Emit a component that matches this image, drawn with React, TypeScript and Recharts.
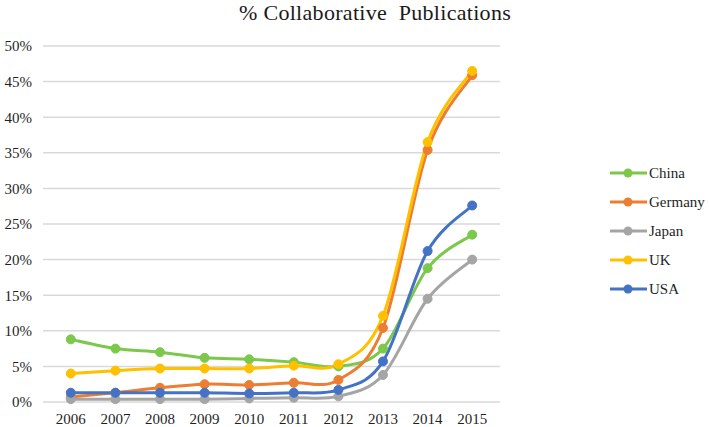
import React from "react";
import { LineChart, Line, XAxis, YAxis, CartesianGrid, Legend } from "recharts";

const years = ["2006", "2007", "2008", "2009", "2010", "2011", "2012", "2013", "2014", "2015"];
const china = [8.8, 7.5, 7.0, 6.2, 6.0, 5.6, 5.0, 7.5, 18.8, 23.5];
const germany = [0.7, 1.3, 2.0, 2.5, 2.4, 2.7, 3.1, 10.4, 35.4, 45.9];
const japan = [0.4, 0.4, 0.4, 0.4, 0.5, 0.6, 0.8, 3.8, 14.5, 20.0];
const uk = [4.0, 4.4, 4.7, 4.7, 4.7, 5.1, 5.3, 12.1, 36.5, 46.5];
const usa = [1.3, 1.3, 1.3, 1.3, 1.2, 1.3, 1.7, 5.7, 21.2, 27.6];
const yTicks = [0, 5, 10, 15, 20, 25, 30, 35, 40, 45, 50];

const series = [
  { key: "China", values: china, color: "#7cc84a" },
  { key: "Germany", values: germany, color: "#ed7d31" },
  { key: "Japan", values: japan, color: "#a5a5a5" },
  { key: "UK", values: uk, color: "#ffc000" },
  { key: "USA", values: usa, color: "#4472c4" },
];

const data = years.map((year, i) => {
  const row: Record<string, string | number> = { year };
  series.forEach((s) => {
    row[s.key] = s.values[i];
  });
  return row;
});

const FONT = "'Liberation Serif', 'Times New Roman', serif";

// Excel-style smoothing: Catmull-Rom like bezier, control points at 1/6 of neighbour span
const excelSmooth = (context: any) => {
  let pts: number[][] = [];
  return {
    areaStart() {},
    areaEnd() {},
    lineStart() {
      pts = [];
    },
    point(x: number, y: number) {
      pts.push([+x, +y]);
    },
    lineEnd() {
      if (!pts.length) return;
      context.moveTo(pts[0][0], pts[0][1]);
      for (let i = 0; i < pts.length - 1; i++) {
        const p0 = pts[i - 1] || pts[i];
        const p1 = pts[i];
        const p2 = pts[i + 1];
        const p3 = pts[i + 2] || p2;
        context.bezierCurveTo(
          p1[0] + (p2[0] - p0[0]) / 6,
          p1[1] + (p2[1] - p0[1]) / 6,
          p2[0] - (p3[0] - p1[0]) / 6,
          p2[1] - (p3[1] - p1[1]) / 6,
          p2[0],
          p2[1]
        );
      }
    },
  };
};

const renderLegend = () => (
  <svg width={100} height={150}>
    {series.map((s, i) => {
      const y = 10 + i * 29;
      return (
        <g key={s.key}>
          <line x1={1} x2={38} y1={y} y2={y} stroke={s.color} strokeWidth={3} />
          <circle cx={19} cy={y} r={4.5} fill={s.color} />
          <text x={40} y={y + 5} fontFamily={FONT} fontSize={15} fill="#1f1f1f">
            {s.key}
          </text>
        </g>
      );
    })}
  </svg>
);

export default function App() {
  return (
    <div style={{ position: "absolute", left: 0, top: 0, width: 709, height: 427, background: "#fff" }}>
      <div
        style={{
          position: "absolute",
          left: 239,
          top: 0,
          fontFamily: FONT,
          fontSize: 22,
          color: "#1a1a1a",
          whiteSpace: "pre",
          lineHeight: "26px",
          letterSpacing: 0.3,
        }}
      >
        {"% Collaborative  Publications"}
      </div>
      <LineChart width={709} height={427} data={data} margin={{ top: 46, right: 109, bottom: 0, left: 0 }}>
        <CartesianGrid vertical={false} stroke="#d9d9d9" strokeWidth={1.5} />
        <XAxis
          dataKey="year"
          axisLine={false}
          tickLine={false}
          height={25}
          tickMargin={5}
          padding={{ left: 27.8, right: 27.8 }}
          tick={{ fontFamily: FONT, fontSize: 15, fill: "#1f1f1f" }}
          interval={0}
        />
        <YAxis
          domain={[0, 50]}
          ticks={yTicks}
          width={43}
          axisLine={false}
          tickLine={false}
          tickMargin={5}
          tickFormatter={(v: number) => `${v}%`}
          tick={{ fontFamily: FONT, fontSize: 15, fill: "#1f1f1f" }}
        />
        <Legend
          layout="vertical"
          align="right"
          verticalAlign="top"
          content={renderLegend}
          wrapperStyle={{ left: 609, top: 163, width: 100 }}
        />
        {series.map((s) => (
          <Line
            key={s.key}
            type={excelSmooth as any}
            dataKey={s.key}
            stroke={s.color}
            strokeWidth={3}
            dot={{ r: 4.5, fill: s.color, stroke: s.color, strokeWidth: 1 }}
            activeDot={false}
            isAnimationActive={false}
          />
        ))}
      </LineChart>
    </div>
  );
}
